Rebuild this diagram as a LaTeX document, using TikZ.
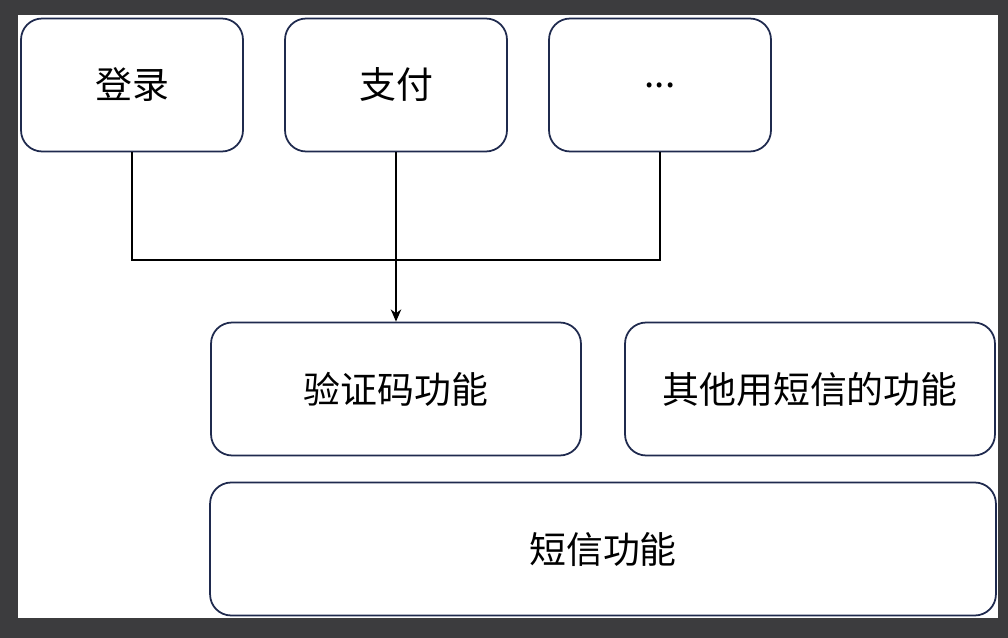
\documentclass[tikz,border=0pt]{standalone}
\usepackage{fontspec}
\setmainfont{Noto Sans CJK SC}
\usepackage{tikz}
\usetikzlibrary{arrows.meta,positioning}
\definecolor{framegrey}{HTML}{3C3C3E}
\definecolor{boxline}{HTML}{1F2A4E}
\tikzset{
  box/.style = {draw=boxline, line width=1pt, rounded corners=12pt, fill=white,
    minimum width=4.44cm, minimum height=2.66cm, font=\fontsize{21}{25}\selectfont, inner sep=0pt},
  wide/.style = {box, minimum width=7.4cm},
  link/.style = {line width=0.7pt, black}
}
\begin{document}
\begin{tikzpicture}[x=0.02cm, y=-0.02cm]
\fill[framegrey] (0,0) rectangle (1008,638);
\fill[white] (18,15) rectangle (998,618);

\node (login) at (132,85) [box]{登录};
\node (pay) at (396,85) [box]{支付};
\node (more) at (660,85) [box]{...};

\node (code) at (396,389) [wide]{验证码功能};
\node (other) at (810,389) [wide]{其他用短信的功能};
\node (sms) at (603,549) [box, minimum width=15.72cm]{短信功能};

\coordinate (join) at (396,260);
\draw[link] (login.south) |- (join) -| (more.south);
\draw[link, -{Stealth[length=7pt,width=6pt]}] (pay.south) -- (code.north);
\end{tikzpicture}
\end{document}
